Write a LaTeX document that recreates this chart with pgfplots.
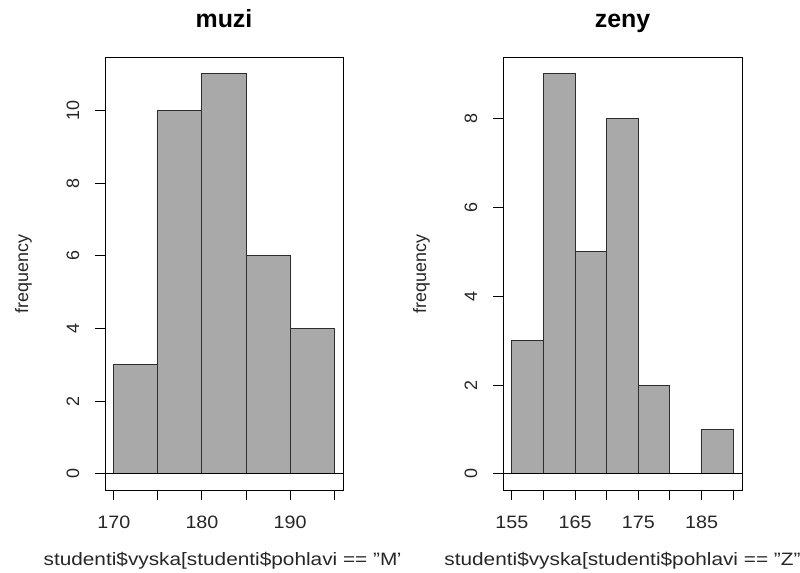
\documentclass[border=0pt]{standalone}
\usepackage{pgfplots}
\pgfplotsset{compat=1.18}
\usepackage{fontspec}
\setmainfont{Liberation Sans}
\definecolor{barfill}{RGB}{169,169,169}
\definecolor{baredge}{RGB}{45,45,45}
\pgfplotsset{
  rhist/.style={
    scale only axis, width=238bp, height=432bp,
    axis line style={line width=1bp, color=black},
    tick style={line width=1bp, color=black},
    tick align=outside, major tick length=10bp,
    xtick pos=left, ytick pos=left,
    /pgf/number format/assume math mode=true,
    tick label style={font=\fontsize{18}{18}\selectfont, color=black!85},
    yticklabel style={rotate=90, anchor=base},
    xticklabel style={anchor=base, xscale=1.1},
    yticklabel shift=16bp,
    xticklabel shift=28bp,
    title style={font=\bfseries\fontsize{25}{25}\selectfont, at={(axis description cs:0.5,1)}, anchor=base, yshift=25bp},
    xlabel style={font=\fontsize{18}{18}\selectfont, color=black!85, at={(axis description cs:0.5,0)}, anchor=base, yshift=-75bp, xscale=1.16},
    ylabel style={font=\fontsize{18}{18}\selectfont, color=black!85, at={(axis description cs:-0.3235,0.5)}, anchor=base},
    ylabel={frequency},
  }
}
\begin{document}
\begin{tikzpicture}
\useasboundingbox (0,0) rectangle (800bp,573bp);
\begin{scope}
\clip (0,0) rectangle (400bp,573bp);
\begin{axis}[rhist, at={(105bp,83bp)}, anchor=south west,
  xmin=169, xmax=196, ymin=-0.44, ymax=11.44,
  xtick={170,175,180,185,190,195}, xticklabels={170,{},180,{},190,{}},
  ytick={0,2,4,6,8,10},
  title={muzi},
  xlabel={studenti\$vyska[studenti\$pohlavi == "M"}]
\addplot[ybar interval, fill=barfill, draw=baredge, line width=1bp] coordinates {
  (170,3) (175,10) (180,11) (185,6) (190,4) (195,4)};
\addplot[black, line width=1bp] coordinates {(169,0) (196,0)};
\end{axis}
\end{scope}
\begin{scope}
\clip (400bp,0) rectangle (800bp,573bp);
\begin{axis}[rhist, width=239bp, at={(503bp,83bp)}, anchor=south west,
  xmin=153.6, xmax=191.4, ymin=-0.36, ymax=9.36,
  xtick={155,160,165,170,175,180,185,190}, xticklabels={155,{},165,{},175,{},185,{}},
  ytick={0,2,4,6,8},
  ylabel style={at={(axis description cs:-0.322,0.5)}},
  title={zeny},
  xlabel={studenti\$vyska[studenti\$pohlavi == "Z"}]
\addplot[ybar interval, fill=barfill, draw=baredge, line width=1bp] coordinates {
  (155,3) (160,9) (165,5) (170,8) (175,2) (180,0) (185,1) (190,1)};
\addplot[black, line width=1bp] coordinates {(153.6,0) (191.4,0)};
\end{axis}
\end{scope}
\end{tikzpicture}
\end{document}
